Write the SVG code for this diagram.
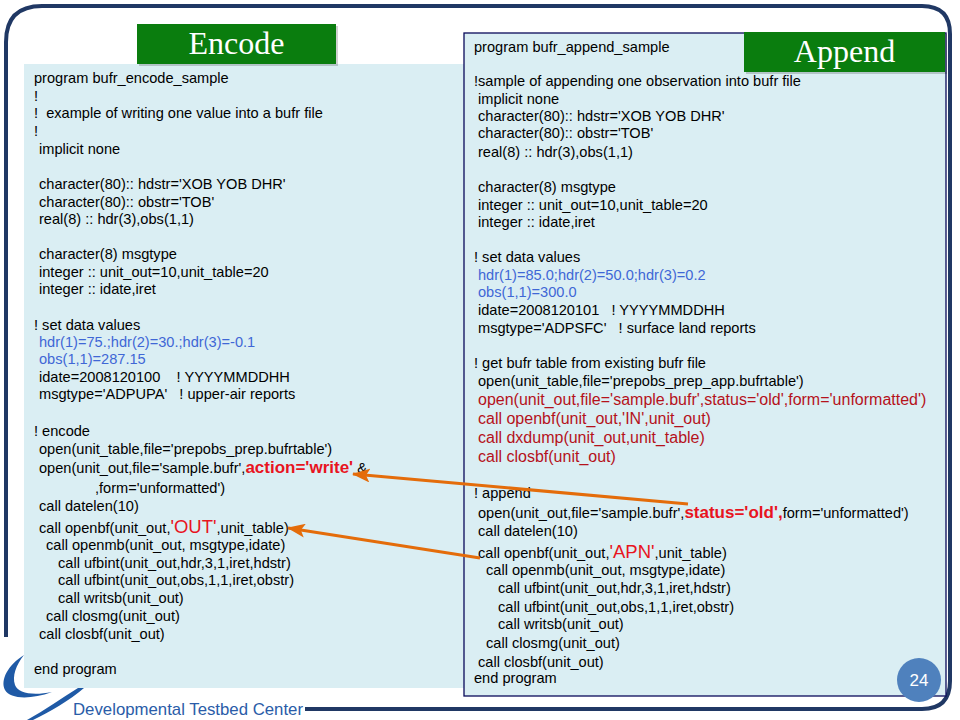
<svg xmlns="http://www.w3.org/2000/svg" width="960" height="720" viewBox="0 0 960 720">
<defs>
<style>
.t{font-family:"Liberation Sans",Arial,sans-serif;font-size:14.6px;fill:#000;white-space:pre}
.b{fill:#3f67d6}
.dr{fill:#b5121b;font-size:16px}
.r{fill:#e8141e;font-size:18.5px}
.rb{fill:#e8141e;font-size:17px;font-weight:bold}
.hd{font-family:"Liberation Serif","Times New Roman",serif;font-size:32px;fill:#fff;text-anchor:middle}
.arr{stroke:#e46c0a;stroke-width:3;fill:none;marker-end:url(#ah)}
</style>
<marker id="ah" markerUnits="userSpaceOnUse" markerWidth="18" markerHeight="14" viewBox="0 0 18 14" refX="17" refY="7" orient="auto">
<path d="M0,0 L18,7 L0,14 L4,7 Z" fill="#e46c0a"/>
</marker>
</defs>
<rect width="960" height="720" fill="#fff"/>
<g id="frame">
<path d="M305,709 L922,709 Q950,709 950,681 L950,34 Q950,6 922,6 L42,6 Q6,6 6,42 L6,637" fill="none" stroke="#203864" stroke-width="4"/>
</g>
<g id="logo">
<path d="M24,655 C8,665 0,680 5,690 C10,699 30,700 52,692 C32,696 18,693 15,685 C12,676 16,665 24,655 Z" fill="#1f5aa6"/>
<path d="M78,688 L84,688 C70,700 50,712 33,720 L27,720 C45,710 62,698 78,688 Z" fill="#1f5aa6"/>
<text x="73" y="715" font-family="'Liberation Sans',Arial,sans-serif" font-size="17" fill="#2a5ca8" textLength="230" lengthAdjust="spacingAndGlyphs">Developmental Testbed Center</text>
</g>
<g id="encode-panel">
<rect x="24" y="64" width="440" height="624" fill="#daeef3"/>
<g xml:space="preserve">
<text class="t" x="34" y="83">program bufr_encode_sample</text>
<text class="t" x="34" y="101">!</text>
<text class="t" x="34" y="118">!  example of writing one value into a bufr file</text>
<text class="t" x="34" y="136">!</text>
<text class="t" x="39" y="154">implicit none</text>
<text class="t" x="39" y="189">character(80):: hdstr='XOB YOB DHR'</text>
<text class="t" x="39" y="207">character(80):: obstr='TOB'</text>
<text class="t" x="39" y="224">real(8) :: hdr(3),obs(1,1)</text>
<text class="t" x="39" y="259">character(8) msgtype</text>
<text class="t" x="39" y="277">integer :: unit_out=10,unit_table=20</text>
<text class="t" x="39" y="294">integer :: idate,iret</text>
<text class="t" x="34" y="330">! set data values</text>
<text class="t b" x="39" y="347">hdr(1)=75.;hdr(2)=30.;hdr(3)=-0.1</text>
<text class="t b" x="39" y="364">obs(1,1)=287.15</text>
<text class="t" x="39" y="382">idate=2008120100    ! YYYYMMDDHH</text>
<text class="t" x="39" y="399">msgtype='ADPUPA'   ! upper-air reports</text>
<text class="t" x="34" y="436">! encode</text>
<text class="t" x="39" y="454">open(unit_table,file='prepobs_prep.bufrtable')</text>
<text class="t" x="39" y="473">open(unit_out,file='sample.bufr',<tspan class="rb">action='write'</tspan> &amp;</text>
<text class="t" x="95" y="493">,form='unformatted')</text>
<text class="t" x="39" y="511">call datelen(10)</text>
<text class="t" x="39" y="533">call openbf(unit_out,<tspan class="r">'OUT'</tspan>,unit_table)</text>
<text class="t" x="46" y="550">call openmb(unit_out, msgtype,idate)</text>
<text class="t" x="58" y="568">call ufbint(unit_out,hdr,3,1,iret,hdstr)</text>
<text class="t" x="58" y="585">call ufbint(unit_out,obs,1,1,iret,obstr)</text>
<text class="t" x="58" y="603">call writsb(unit_out)</text>
<text class="t" x="46" y="621">call closmg(unit_out)</text>
<text class="t" x="39" y="639">call closbf(unit_out)</text>
<text class="t" x="34" y="674">end program</text>
</g>
</g>
<g id="encode-title">
<rect x="139" y="26" width="199" height="40" fill="#000" opacity="0.18"/>
<rect x="137" y="24" width="199" height="40" fill="#0a7d0e"/>
<text class="hd" x="236.5" y="54">Encode</text>
</g>
<g id="append-panel">
<rect x="464" y="33" width="482" height="663" fill="#daeef3" stroke="#0a0a5a" stroke-width="1.3"/>
<g xml:space="preserve">
<text class="t" x="474" y="52">program bufr_append_sample</text>
<text class="t" x="474" y="86">!sample of appending one observation into bufr file</text>
<text class="t" x="478" y="104">implicit none</text>
<text class="t" x="478" y="121">character(80):: hdstr='XOB YOB DHR'</text>
<text class="t" x="478" y="138">character(80):: obstr='TOB'</text>
<text class="t" x="478" y="157">real(8) :: hdr(3),obs(1,1)</text>
<text class="t" x="478" y="192">character(8) msgtype</text>
<text class="t" x="478" y="210">integer :: unit_out=10,unit_table=20</text>
<text class="t" x="478" y="227">integer :: idate,iret</text>
<text class="t" x="474" y="262">! set data values</text>
<text class="t b" x="478" y="280">hdr(1)=85.0;hdr(2)=50.0;hdr(3)=0.2</text>
<text class="t b" x="478" y="297">obs(1,1)=300.0</text>
<text class="t" x="478" y="315">idate=2008120101   ! YYYYMMDDHH</text>
<text class="t" x="478" y="333">msgtype='ADPSFC'   ! surface land reports</text>
<text class="t" x="474" y="368">! get bufr table from existing bufr file</text>
<text class="t" x="478" y="386">open(unit_table,file='prepobs_prep_app.bufrtable')</text>
<text class="t dr" x="478" y="405">open(unit_out,file='sample.bufr',status='old',form='unformatted')</text>
<text class="t dr" x="478" y="424">call openbf(unit_out,'IN',unit_out)</text>
<text class="t dr" x="478" y="443">call dxdump(unit_out,unit_table)</text>
<text class="t dr" x="478" y="462">call closbf(unit_out)</text>
<text class="t" x="474" y="498">! append</text>
<text class="t" x="478" y="518">open(unit_out,file='sample.bufr',<tspan class="rb">status='old',</tspan>form='unformatted')</text>
<text class="t" x="478" y="536">call datelen(10)</text>
<text class="t" x="478" y="558">call openbf(unit_out,<tspan class="r">'APN'</tspan>,unit_table)</text>
<text class="t" x="486" y="575">call openmb(unit_out, msgtype,idate)</text>
<text class="t" x="498" y="593">call ufbint(unit_out,hdr,3,1,iret,hdstr)</text>
<text class="t" x="498" y="612">call ufbint(unit_out,obs,1,1,iret,obstr)</text>
<text class="t" x="498" y="629">call writsb(unit_out)</text>
<text class="t" x="486" y="648">call closmg(unit_out)</text>
<text class="t" x="478" y="667">call closbf(unit_out)</text>
<text class="t" x="474" y="683">end program</text>
</g>
</g>
<g id="append-title">
<rect x="746" y="34" width="201" height="40" fill="#000" opacity="0.18"/>
<rect x="744" y="32" width="201" height="40" fill="#0a7d0e"/>
<text class="hd" x="844.5" y="62">Append</text>
</g>
<g id="page-number">
<circle cx="919" cy="680" r="22" fill="#4f81bd"/>
<text x="919" y="686" text-anchor="middle" font-family="'Liberation Sans',Arial,sans-serif" font-size="17" fill="#fff">24</text>
</g>
<g id="connectors">
<line class="arr" x1="688" y1="504" x2="353" y2="474"/>
<line class="arr" x1="480" y1="558" x2="288" y2="528"/>
</g>
</svg>
